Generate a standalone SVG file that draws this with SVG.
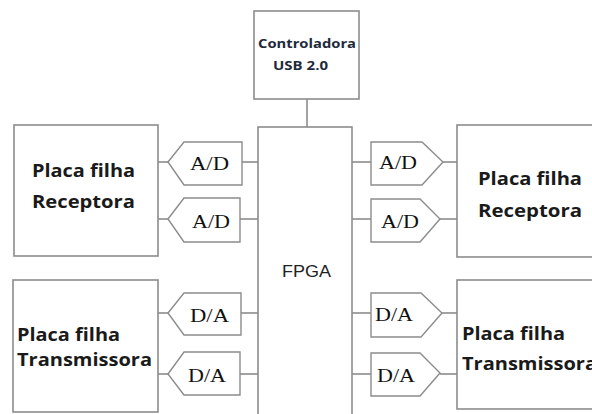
<svg xmlns="http://www.w3.org/2000/svg" width="592" height="414" viewBox="0 0 592 414">
<style>
.box{fill:#fff;stroke:#8c8c8c;stroke-width:1.6}
.conv{fill:#fff;stroke:#8c8c8c;stroke-width:1.4}
.wire{stroke:#8c8c8c;stroke-width:1.6;fill:none}
.lbl{font-family:"Open Sans","DejaVu Sans",sans-serif;font-weight:bold;font-size:18px;fill:#1a1a1a}
.usb{font-family:"Open Sans","DejaVu Sans",sans-serif;font-weight:bold;font-size:13px;fill:#1e2a3a}
.cv{font-family:"Liberation Serif","Times New Roman",serif;font-size:19px;fill:#111}
.fp{font-family:"Liberation Sans",Arial,sans-serif;font-size:16px;fill:#222}
</style>
<rect width="592" height="414" fill="#fff"/>
<g id="connectors">
<line class="wire" x1="307" y1="99" x2="307" y2="127"/>
<line class="wire" x1="158" y1="162" x2="168" y2="162"/>
<line class="wire" x1="242" y1="162" x2="258" y2="162"/>
<line class="wire" x1="158" y1="219" x2="168" y2="219"/>
<line class="wire" x1="240" y1="219" x2="258" y2="219"/>
<line class="wire" x1="158" y1="313" x2="168" y2="313"/>
<line class="wire" x1="241" y1="313" x2="258" y2="313"/>
<line class="wire" x1="158" y1="374" x2="168" y2="374"/>
<line class="wire" x1="240" y1="374" x2="258" y2="374"/>
<line class="wire" x1="352" y1="162" x2="371" y2="162"/>
<line class="wire" x1="443" y1="162" x2="457" y2="162"/>
<line class="wire" x1="352" y1="219" x2="371" y2="219"/>
<line class="wire" x1="440" y1="219" x2="457" y2="219"/>
<line class="wire" x1="352" y1="313" x2="371" y2="313"/>
<line class="wire" x1="442" y1="313" x2="457" y2="313"/>
<line class="wire" x1="352" y1="374" x2="371" y2="374"/>
<line class="wire" x1="440" y1="374" x2="457" y2="374"/>
</g>
<g id="usb">
<rect class="box" x="254" y="11" width="105" height="88"/>
<text class="usb" x="258" y="48" textLength="98" lengthAdjust="spacingAndGlyphs">Controladora</text>
<text class="usb" x="273" y="70" textLength="55" lengthAdjust="spacingAndGlyphs">USB 2.0</text>
</g>
<g id="fpga">
<rect class="box" x="258" y="127" width="94" height="300"/>
<text class="fp" x="282" y="277" textLength="49" lengthAdjust="spacingAndGlyphs">FPGA</text>
</g>
<g id="rx-left">
<rect class="box" x="14" y="125" width="144" height="131"/>
<text class="lbl" x="32" y="177" textLength="103" lengthAdjust="spacingAndGlyphs">Placa filha</text>
<text class="lbl" x="32" y="208" textLength="103" lengthAdjust="spacingAndGlyphs">Receptora</text>
</g>
<g id="tx-left">
<rect class="box" x="13" y="280" width="145" height="132"/>
<text class="lbl" x="17" y="341" textLength="103" lengthAdjust="spacingAndGlyphs">Placa filha</text>
<text class="lbl" x="17" y="366" textLength="135" lengthAdjust="spacingAndGlyphs">Transmissora</text>
</g>
<g id="rx-right">
<rect class="box" x="457" y="125" width="150" height="132"/>
<text class="lbl" x="478" y="185" textLength="104" lengthAdjust="spacingAndGlyphs">Placa filha</text>
<text class="lbl" x="478" y="217" textLength="104" lengthAdjust="spacingAndGlyphs">Receptora</text>
</g>
<g id="tx-right">
<rect class="box" x="457" y="280" width="150" height="129"/>
<text class="lbl" x="462" y="340" textLength="103" lengthAdjust="spacingAndGlyphs">Placa filha</text>
<text class="lbl" x="462" y="370" textLength="135" lengthAdjust="spacingAndGlyphs">Transmissora</text>
</g>
<g id="ad-l1">
<polygon class="conv" points="168,162 184,142 242,142 242,185 184,185"/>
<text class="cv" x="190" y="170" textLength="39" lengthAdjust="spacingAndGlyphs">A/D</text>
</g>
<g id="ad-l2">
<polygon class="conv" points="168,219 184,198 240,198 240,242 184,242"/>
<text class="cv" x="192" y="228" textLength="38" lengthAdjust="spacingAndGlyphs">A/D</text>
</g>
<g id="da-l1">
<polygon class="conv" points="168,313 184,293 241,293 241,335 184,335"/>
<text class="cv" x="190" y="322" textLength="39" lengthAdjust="spacingAndGlyphs">D/A</text>
</g>
<g id="da-l2">
<polygon class="conv" points="168,374 184,352 240,352 240,395 184,395"/>
<text class="cv" x="188" y="382" textLength="38" lengthAdjust="spacingAndGlyphs">D/A</text>
</g>
<g id="ad-r1">
<polygon class="conv" points="371,142 422,142 443,162 422,185 371,185"/>
<text class="cv" x="379" y="169" textLength="38" lengthAdjust="spacingAndGlyphs">A/D</text>
</g>
<g id="ad-r2">
<polygon class="conv" points="371,199 420,199 440,219 420,242 371,242"/>
<text class="cv" x="381" y="228" textLength="38" lengthAdjust="spacingAndGlyphs">A/D</text>
</g>
<g id="da-r1">
<polygon class="conv" points="371,293 421,293 442,313 421,337 371,337"/>
<text class="cv" x="375" y="321" textLength="38" lengthAdjust="spacingAndGlyphs">D/A</text>
</g>
<g id="da-r2">
<polygon class="conv" points="371,353 420,353 440,373 420,396 371,396"/>
<text class="cv" x="377" y="382" textLength="38" lengthAdjust="spacingAndGlyphs">D/A</text>
</g>
</svg>
